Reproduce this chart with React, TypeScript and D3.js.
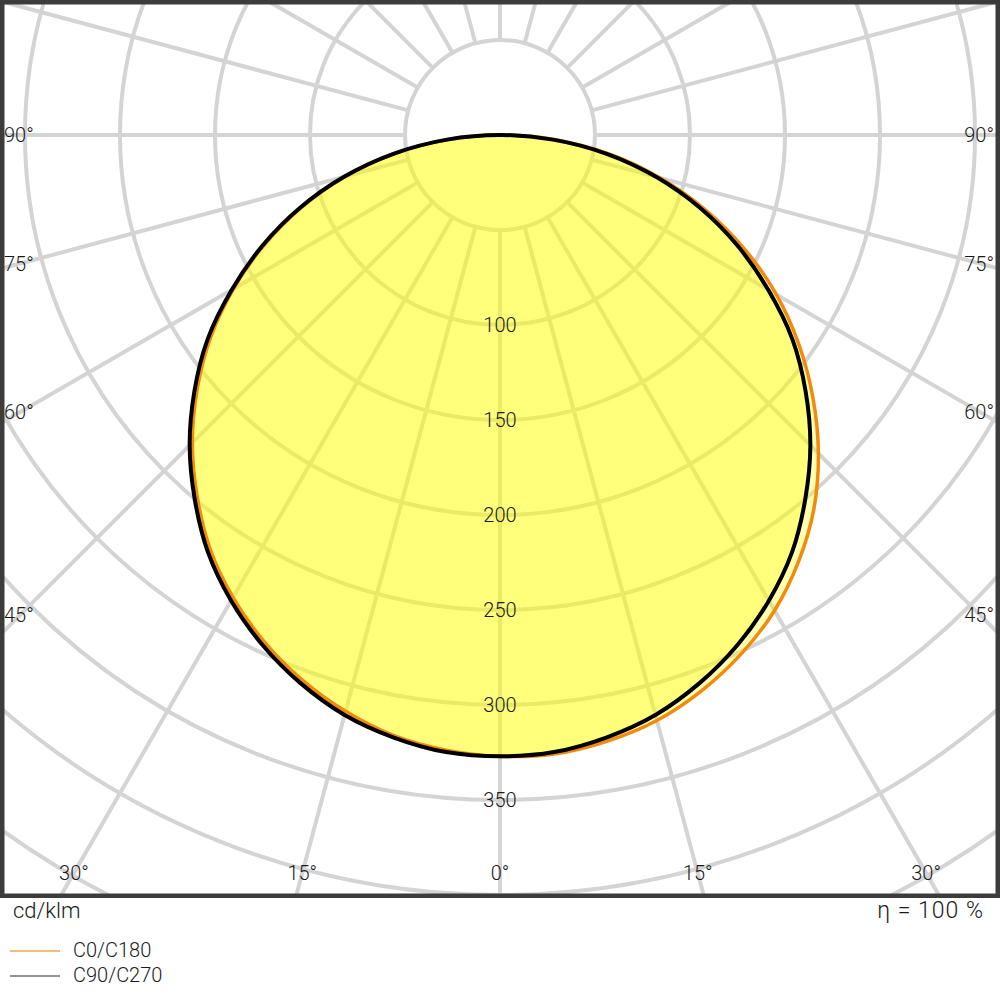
import React from "react";
import * as d3 from "d3";

// ---- data (cd/klm) ----
const gammaAngles = [0, 5, 10, 15, 20, 25, 30, 35, 40, 45, 50, 55, 60, 65, 70, 75, 80, 85, 90];
const c0Values = [327, 327, 324, 319, 311, 301, 289, 274, 257, 237, 215, 192, 168, 142, 115, 87, 59, 30, 0];
const c180Values = [327, 325, 321, 314, 305, 294, 281, 266, 248, 229, 208, 186, 162, 137, 111, 84, 56, 28, 0];
const c90Values = [327, 326, 322, 316, 307, 296, 283, 268, 250, 231, 210, 188, 163, 138, 112, 85, 57, 28, 0];
const c270Values = [327, 326, 322, 316, 307, 296, 283, 268, 250, 231, 210, 188, 163, 138, 112, 85, 57, 28, 0];

const ringValues = [50, 100, 150, 200, 250, 300, 350, 400, 450, 500];
const ringLabels = [100, 150, 200, 250, 300, 350];
const spokeAngles = d3.range(0, 360, 15);
const sideLabelAngles = [45, 60, 75, 90];
const bottomLabelAngles = [0, 15, 30];
const seriesNames = ["C0/C180", "C90/C270"];
const unitLabel = "cd/klm";
const efficiencyLabel = "η = 100 %";

const W = 1000;
const H = 1000;
const CX = 500;
const CY = 135;
const FRAME = { x: 2.25, y: 2.25, w: 995.5, h: 893.5 };
const FONT = "Roboto, 'Liberation Sans', Arial, sans-serif";

export default function App() {
  const r = d3.scaleLinear().domain([0, 100]).range([0, 190]);
  const rad = (deg: number) => (deg * Math.PI) / 180;

  const buildPoints = (left: number[], right: number[]) => {
    const pts: [number, number][] = [];
    for (let i = gammaAngles.length - 1; i >= 0; i--) pts.push([Math.PI + rad(gammaAngles[i]), r(left[i])]);
    for (let i = 1; i < gammaAngles.length - 1; i++) pts.push([Math.PI - rad(gammaAngles[i]), r(right[i])]);
    return pts;
  };
  const radial = d3
    .lineRadial<[number, number]>()
    .angle((d) => d[0])
    .radius((d) => d[1])
    .curve(d3.curveCatmullRomClosed.alpha(0.5));

  const pathC0 = radial(buildPoints(c180Values, c0Values)) || "";
  const pathC90 = radial(buildPoints(c270Values, c90Values)) || "";

  const gridColor = "#d4d4d4";
  const textColor = "#1a1a1a";
  const innerR = r(50);

  return (
    <svg
      width={W}
      height={H}
      style={{ position: "absolute", left: 0, top: 0, background: "#fff" }}
      fontFamily={FONT}
    >
      <defs>
        <clipPath id="frameClip">
          <rect x={FRAME.x} y={FRAME.y} width={FRAME.w} height={FRAME.h} />
        </clipPath>
      </defs>
      <rect x={0} y={0} width={W} height={H} fill="#fff" />
      <g clipPath="url(#frameClip)">
        {ringValues.map((v) => (
          <circle key={v} cx={CX} cy={CY} r={r(v)} fill="none" stroke={gridColor} strokeWidth={4} />
        ))}
        {spokeAngles.map((a) => (
          <line
            key={a}
            x1={CX + innerR * Math.sin(rad(a))}
            y1={CY + innerR * Math.cos(rad(a))}
            x2={CX + 2000 * Math.sin(rad(a))}
            y2={CY + 2000 * Math.cos(rad(a))}
            stroke={gridColor}
            strokeWidth={4}
          />
        ))}
        <g transform={`translate(${CX},${CY})`}>
          <path d={pathC90} fill="#ffff00" fillOpacity={0.3} stroke="none" />
          <path d={pathC0} fill="#ffff00" fillOpacity={0.3} stroke="none" />
          <path d={pathC0} fill="none" stroke="#f28a0c" strokeWidth={3.5} strokeLinejoin="round" />
          <path d={pathC90} fill="none" stroke="#000" strokeWidth={4} strokeLinejoin="round" />
        </g>
        {ringLabels.map((v) => (
          <text
            key={v}
            x={CX}
            y={CY + r(v)}
            textAnchor="middle"
            dominantBaseline="central"
            fontSize={20}
            fontWeight={300}
            fill={textColor}
          >
            {v}
          </text>
        ))}
        {sideLabelAngles.map((a) => {
          const y = CY + 480 / Math.tan(rad(a));
          return (
            <g key={a}>
              <text x={4} y={y} dominantBaseline="central" fontSize={20} fontWeight={300} fill={textColor}>
                {a}°
              </text>
              <text x={994} y={y} textAnchor="end" dominantBaseline="central" fontSize={20} fontWeight={300} fill={textColor}>
                {a}°
              </text>
            </g>
          );
        })}
        {bottomLabelAngles.map((a) => {
          const dx = 738 * Math.tan(rad(a));
          const xs = a === 0 ? [CX] : [CX - dx, CX + dx];
          return xs.map((x, i) => (
            <text
              key={`${a}-${i}`}
              x={x}
              y={873}
              textAnchor="middle"
              dominantBaseline="central"
              fontSize={20}
              fontWeight={300}
              fill={textColor}
            >
              {a}°
            </text>
          ));
        })}
      </g>
      <rect
        x={FRAME.x}
        y={FRAME.y}
        width={FRAME.w}
        height={FRAME.h}
        fill="none"
        stroke="#3c3c3c"
        strokeWidth={4.5}
      />
      <text x={13} y={918} fontSize={22} fontWeight={300} fill={textColor}>
        {unitLabel}
      </text>
      <text x={984} y={918} textAnchor="end" fontSize={23} fontWeight={300} fill={textColor} letterSpacing={1}>
        {efficiencyLabel}
      </text>
      <line x1={10} x2={60} y1={951} y2={951} stroke="#f2a64a" strokeWidth={1.5} />
      <text x={73} y={957} fontSize={20} fontWeight={300} fill={textColor}>
        {seriesNames[0]}
      </text>
      <line x1={10} x2={60} y1={976} y2={976} stroke="#6e6e6e" strokeWidth={1.5} />
      <text x={73} y={982} fontSize={20} fontWeight={300} fill={textColor}>
        {seriesNames[1]}
      </text>
    </svg>
  );
}
